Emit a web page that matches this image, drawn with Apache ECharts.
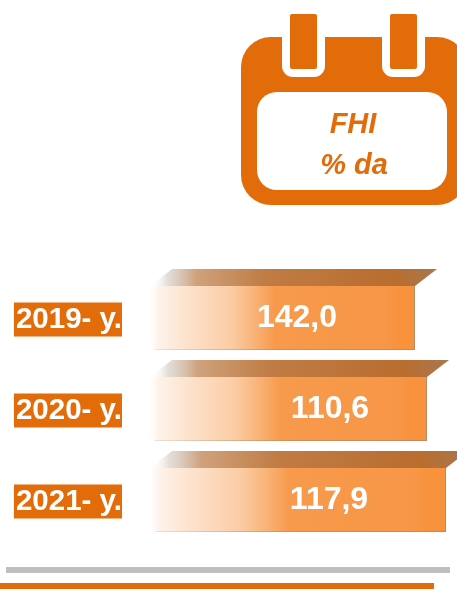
<!DOCTYPE html>
<html><head><meta charset="utf-8">
<style>html,body{margin:0;padding:0;background:#fff}#c{width:457px;height:598px}</style>
<script src="https://cdn.jsdelivr.net/npm/echarts@6/dist/echarts.min.js"></script>
</head><body><div id="c"></div>
<script>
const categories = ['2019- y.', '2020- y.', '2021- y.'];
const valueLabels = ['142,0', '110,6', '117,9'];
// Lengths of the drawn bars (they do not follow the printed values).
const drawnLengths = [265, 277, 296];
const labelCentres = [147, 180, 179];
const titleLines = ['FHI', '% da'];

const ORANGE = '#e36c0a';
const FONT = '"Liberation Sans", Arial, sans-serif';
const chart = echarts.init(document.getElementById('c'), null, {renderer: 'canvas'});

function hgrad(stops) {
  return new echarts.graphic.LinearGradient(0, 0, 1, 0, stops.map(s => ({offset: s[0], color: s[1]})));
}
function renderBar(params, api) {
  const i = api.value(0);
  const end = api.coord([api.value(1), i]);
  const start = api.coord([0, i]);
  const band = api.size([0, 1])[1];
  const h = band * 0.703;
  const top = end[1] - h / 2 - 1.5;
  const dx = 22, dy = 17;
  const x0 = start[0], x1 = end[0];
  const lab = api.coord([api.value(2), i]);
  return {type: 'group', children: [
    {type: 'polygon', shape: {points: [[x0, top], [x0 + dx, top - dy], [x1 + dx, top - dy], [x1, top]]},
      style: {fill: hgrad([[0, 'rgba(255,255,255,0)'], [0.06, 'rgba(200,190,180,0.5)'], [0.16, '#cfa27c'], [0.4, '#c07c44'], [0.85, '#b96d2f'], [1, '#a9774f']])}},
    {type: 'rect', shape: {x: x0, y: top, width: x1 - x0, height: h},
      style: {fill: hgrad([[0, 'rgba(255,255,255,0.9)'], [0.03, '#fef3ea'], [0.14, '#fde2cc'], [0.3, '#fbcda6'], [0.4, '#f9b173'], [0.47, '#f79a4c'], [0.9, '#f79646'], [0.94, '#f8923c'], [1, '#f8923c']])}},
    {type: 'rect', shape: {x: x1 - 1, y: top, width: 1, height: h},
      style: {fill: '#b98a64'}},
    {type: 'rect', shape: {x: x0 + 5, y: top + h - 1, width: x1 - x0 - 5, height: 1},
      style: {fill: hgrad([[0, 'rgba(200,180,165,0.3)'], [0.5, 'rgba(195,140,95,0.8)'], [1, '#c28a5e']])}},
    {type: 'text', style: {x: lab[0], y: end[1] - 1, text: api.value(3), fill: '#fff', font: 'bold 32px ' + FONT, align: 'center', verticalAlign: 'middle'}}
  ]};
}

const barRows = categories.map((c, i) => [i, drawnLengths[i], labelCentres[i], valueLabels[i]]);

chart.setOption({
  animation: false,
  backgroundColor: '#fff',
  grid: {left: 150, top: 274, width: 307, height: 273},
  xAxis: {type: 'value', min: 0, max: 307, show: false},
  yAxis: {type: 'category', inverse: true, data: categories,
    axisLine: {show: false}, axisTick: {show: false}, splitLine: {show: false},
    axisLabel: {margin: 28, color: '#fff', fontFamily: FONT, fontWeight: 'bold', fontSize: 29.5,
      backgroundColor: ORANGE, lineHeight: 34, padding: [0, 0, 0, 2]}},
  series: [{type: 'custom', renderItem: renderBar, clip: false,
    encode: {x: 1, y: 0}, data: barRows}],
  graphic: [
    {type: 'rect', shape: {x: 241, y: 37, width: 226, height: 168, r: 30}, style: {fill: ORANGE}},
    {type: 'rect', shape: {x: 282, y: 30, width: 43, height: 47, r: [0, 0, 11, 11]}, style: {fill: '#fff'}},
    {type: 'rect', shape: {x: 382, y: 30, width: 43, height: 47, r: [0, 0, 11, 11]}, style: {fill: '#fff'}},
    {type: 'rect', shape: {x: 290, y: 14, width: 27, height: 55, r: 2}, style: {fill: ORANGE}},
    {type: 'rect', shape: {x: 390, y: 14, width: 27, height: 55, r: 2}, style: {fill: ORANGE}},
    {type: 'rect', shape: {x: 257, y: 92, width: 190, height: 98, r: 20}, style: {fill: '#fff'}},
    {type: 'text', style: {x: 353, y: 125, text: titleLines[0], fill: ORANGE, font: 'italic bold 29px ' + FONT, align: 'center', verticalAlign: 'middle'}},
    {type: 'text', style: {x: 354, y: 166, text: titleLines[1], fill: ORANGE, font: 'italic bold 29px ' + FONT, align: 'center', verticalAlign: 'middle'}},
    {type: 'rect', shape: {x: 6, y: 567, width: 444, height: 6}, style: {fill: '#bfbfbf'}},
    {type: 'rect', shape: {x: 0, y: 583, width: 434, height: 6}, style: {fill: ORANGE}}
  ]
});
</script></body></html>
